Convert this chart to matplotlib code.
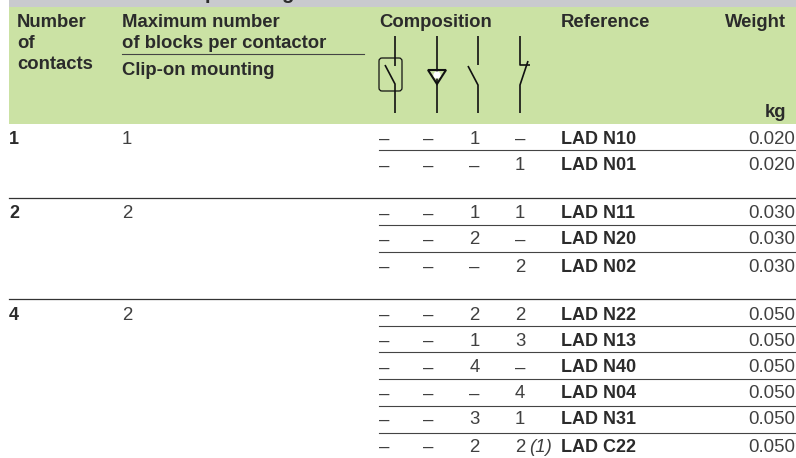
import matplotlib
matplotlib.use('Agg')
import matplotlib.pyplot as plt
from matplotlib.patches import Rectangle, FancyBboxPatch, Polygon, Circle

plt.rcParams['font.family'] = ['Liberation Sans', 'DejaVu Sans']

W, H = 796, 458
TXT = '#2b2b2b'
TXT2 = '#404040'
GREEN = '#cbe2a4'
GREY = '#c9cace'

# table content
contacts = ['1', '2', '4']
max_blocks = ['1', '2', '2']
group_y = [143.5, 218.5, 319.5]
row_y = [143.5, 170.5, 218.5, 244.5, 271.5, 319.5, 345.5, 372.5, 398.5, 424.5, 451.5]
col_a = ['–'] * 11
col_b = ['–'] * 11
col_c = ['1', '–', '1', '2', '–', '2', '1', '4', '–', '3', '2']
col_d = ['–', '1', '1', '–', '2', '2', '3', '–', '4', '1', '2']
refs = ['LAD N10', 'LAD N01', 'LAD N11', 'LAD N20', 'LAD N02', 'LAD N22',
        'LAD N13', 'LAD N40', 'LAD N04', 'LAD N31', 'LAD C22']
weights = ['0.020', '0.020', '0.030', '0.030', '0.030', '0.050',
           '0.050', '0.050', '0.050', '0.050', '0.050']
full_rules = [198, 299]
short_rules = [150, 225, 252, 326, 352, 379, 406, 433]

fig = plt.figure(figsize=(W / 100, H / 100), dpi=100)
ax = fig.add_axes([0, 0, 1, 1])
ax.set_xlim(0, W)
ax.set_ylim(H, 0)
ax.axis('off')

ax.add_patch(Rectangle((9, 0), 787, 7, color=GREY, lw=0))
ax.add_patch(Rectangle((9, 7), 787, 117, color=GREEN, lw=0))

# cut off title, only the descenders show
ax.text(211, -1, 'p', fontsize=14.5, fontweight='bold', color=TXT, ha='center', va='baseline')
ax.text(287, -1, 'g', fontsize=14.5, fontweight='bold', color=TXT, ha='center', va='baseline')

def head(x, y, s, ha='left'):
    ax.text(x, y, s, fontsize=13.3, fontweight='bold', color=TXT, ha=ha, va='baseline')

head(17, 27, 'Number')
head(17, 48, 'of')
head(17, 69, 'contacts')
head(122, 27, 'Maximum number')
head(122, 48, 'of blocks per contactor')
head(122, 75, 'Clip-on mounting')
head(379, 27, 'Composition')
head(561, 27, 'Reference')
head(786, 27, 'Weight', ha='right')
head(786, 117, 'kg', ha='right')
ax.plot([122, 364], [54, 54], color='#444444', lw=0.8)

# composition symbols
def sym(xs, ys):
    ax.plot(xs, ys, color='#111111', lw=1.2, solid_capstyle='butt')

ax.add_patch(FancyBboxPatch((379, 58), 23, 33, boxstyle='round,pad=0,rounding_size=3',
                            fill=False, ec='#111111', lw=0.9))
sym([395, 395], [36, 66])
sym([385, 395, 395], [65, 84, 113])
sym([437, 437], [36, 113])
ax.add_patch(Polygon([[428, 70], [446, 70], [437, 84]], fill=False, ec='#111111', lw=1.5))
ax.add_patch(Circle((437, 75), 3.6, fc='white', ec='none', zorder=3))
sym([478, 478], [36, 65])
sym([468, 478, 478], [66, 85, 113])
sym([520, 520, 530], [36, 65, 65])
sym([528, 520, 520], [61, 85, 113])

# rows
for s, y in zip(contacts, group_y):
    ax.text(9, y, s, fontsize=13, fontweight='bold', color=TXT, va='baseline')
for s, y in zip(max_blocks, group_y):
    ax.text(122, y, s, fontsize=13.4, color=TXT2, va='baseline')

for i, y in enumerate(row_y):
    ax.text(384.5, y, col_a[i], fontsize=13.4, color=TXT2, ha='center', va='baseline')
    ax.text(428, y, col_b[i], fontsize=13.4, color=TXT2, ha='center', va='baseline')
    ax.text(474.5, y, col_c[i], fontsize=13.4, color=TXT2, ha='center', va='baseline')
    ax.text(520, y, col_d[i], fontsize=13.4, color=TXT2, ha='center', va='baseline')
    ax.text(561, y, refs[i], fontsize=13, fontweight='bold', color=TXT, va='baseline')
    ax.text(795, y, weights[i], fontsize=13.4, color=TXT2, ha='right', va='baseline')
ax.text(529, row_y[-1], '(1)', fontsize=13.4, style='italic', color=TXT2, va='baseline')

for y in full_rules:
    ax.plot([9, 796], [y, y], color='#333333', lw=0.9)
for y in short_rules:
    ax.plot([379, 796], [y, y], color='#444444', lw=0.8)

fig.savefig('out.png', dpi=100)
